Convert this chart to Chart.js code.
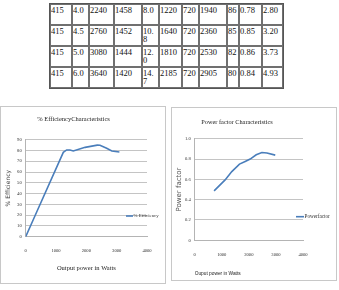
<!DOCTYPE html>
<html><head><meta charset="utf-8">
<script src="https://cdn.jsdelivr.net/npm/chart.js@4.4.0/dist/chart.umd.min.js"></script>
<style>
html,body{margin:0;padding:0;background:#fff;width:339px;height:290px;overflow:hidden;position:relative}
#tbl{position:absolute;left:49px;top:3px;border-collapse:separate;border-spacing:0;border:1px solid #555;table-layout:fixed;width:235px;font-family:'Liberation Serif',serif;font-size:8.5px;line-height:8.3px;color:#111}
#tbl tr{height:21px}
#tbl td{border:1px solid #707070;padding:1px 0 0 0;vertical-align:top;word-break:break-all;overflow:hidden}
#tbl td.nw{padding-right:3px}
.box{position:absolute;border:1px solid #c8c8c8;box-sizing:border-box}
canvas{position:absolute}
</style></head><body>
<table id="tbl"><colgroup>
<col style="width:22px"><col style="width:17px"><col style="width:25px"><col style="width:28px"><col style="width:17px"><col style="width:23px"><col style="width:17px"><col style="width:28px"><col style="width:12px"><col style="width:23px"><col style="width:21px">
</colgroup><tbody id="tb"></tbody></table>
<div class="box" style="left:0;top:106px;width:166px;height:178px"></div>
<div class="box" style="left:171px;top:107px;width:166px;height:174px"></div>
<canvas id="c1" width="165" height="177" style="left:0;top:106px"></canvas>
<canvas id="c2" width="165" height="173" style="left:171px;top:107px"></canvas>
<script>
// ---- table data ----
const row1 = ["415","4.0","2240","1458","8.0","1220","720","1940","86","0.78","2.80"];
const row2 = ["415","4.5","2760","1452","10.8","1640","720","2360","85","0.85","3.20"];
const row3 = ["415","5.0","3080","1444","12.0","1810","720","2530","82","0.86","3.73"];
const row4 = ["415","6.0","3640","1420","14.7","2185","720","2905","80","0.84","4.93"];
const tableRows = [row1, row2, row3, row4];

// ---- chart data ----
const effPower  = [0, 300, 1240, 1350, 1460, 1570, 1960, 2360, 2450, 2670, 2840, 3090];
const effValues = [0, 19, 78.3, 80.5, 80.4, 79.5, 82.9, 85, 84.8, 82, 79.5, 78.6];
const pfPower   = [716, 1123, 1370, 1654, 1864, 2049, 2272, 2481, 2667, 2975];
const pfValues  = [0.487, 0.595, 0.677, 0.75, 0.776, 0.80, 0.842, 0.865, 0.859, 0.839];
const xTickValues   = [0, 1000, 2000, 3000, 4000];
const effTickValues = [0, 10, 20, 30, 40, 50, 60, 70, 80, 90];
const pfTickValues  = [0, 0.2, 0.4, 0.6, 0.8, 1];

// build table
const tb = document.getElementById('tb');
tableRows.forEach(r => {
  const tr = document.createElement('tr');
  r.forEach((v, i) => {
    const td = document.createElement('td');
    td.textContent = v;
    if (i === 4) td.className = 'nw';
    tr.appendChild(td);
  });
  tb.appendChild(tr);
});

const inlineLegend = {
  id: 'inlineLegend',
  afterDraw(chart, args, o) {
    const ctx = chart.ctx, ds = chart.data.datasets[0];
    ctx.save();
    ctx.strokeStyle = ds.borderColor; ctx.lineWidth = ds.borderWidth;
    ctx.beginPath(); ctx.moveTo(o.x, o.y); ctx.lineTo(o.x + o.len, o.y); ctx.stroke();
    ctx.font = o.font; ctx.fillStyle = o.color;
    ctx.textBaseline = 'middle'; ctx.textAlign = 'left';
    ctx.fillText(ds.label, o.x + o.len + 0.5, o.y);
    ctx.restore();
  }
};

const LINE = '#4A7EBB';
const GRID = '#c4c4c4';
const tickFont = {family: 'Liberation Serif', size: 4.6};
const setTicks = vals => s => { s.ticks = vals.map(v => ({value: v})); };

new Chart(document.getElementById('c1'), {
  type: 'scatter',
  data: {datasets: [{
    label: '% Efficiency',
    data: effPower.map((x, i) => ({x, y: effValues[i]})),
    showLine: true, borderColor: LINE, backgroundColor: LINE,
    borderWidth: 1.6, pointRadius: 0, tension: 0
  }]},
  plugins: [inlineLegend],
  options: {
    responsive: false, animation: false, devicePixelRatio: 1,
    layout: {padding: {left: 0, right: 18, top: 0, bottom: 0}},
    plugins: {
      legend: {display: false}, tooltip: {enabled: false},
      title: {display: true, text: '% EfficiencyCharacteristics',
        font: {family: 'Liberation Serif', size: 6.5, weight: 'normal'},
        color: '#222', padding: {top: 9.1, bottom: 16.8}},
      inlineLegend: {x: 126, y: 110, len: 7, font: '4.8px "Liberation Serif"', color: '#333'}
    },
    scales: {
      x: {type: 'linear', min: 0, max: 4000, afterBuildTicks: setTicks(xTickValues),
        afterFit: s => { s.height = 46.3; },
        ticks: {callback: v => String(v), font: tickFont, color: '#333', padding: 11, maxRotation: 0, autoSkip: false},
        grid: {display: false, drawTicks: false},
        border: {display: true, color: '#b4b4b4'},
        title: {display: true, text: 'Output power in Watts',
          font: {family: 'Liberation Serif', size: 6.5}, color: '#222', padding: {top: 0, bottom: 11.1}}},
      y: {min: 0, max: 90, afterBuildTicks: setTicks(effTickValues),
        afterFit: s => { s.width = 25.7; },
        ticks: {font: tickFont, color: '#333', padding: 4, autoSkip: false},
        grid: {color: GRID, drawTicks: false},
        border: {display: true, color: '#b4b4b4'},
        title: {display: true, text: '% Efficiency',
          font: {family: 'DejaVu Sans', size: 6}, color: '#444', padding: {top: 4.4, bottom: 0}}}
    }
  }
});

new Chart(document.getElementById('c2'), {
  type: 'scatter',
  data: {datasets: [{
    label: 'Powerfactor',
    data: pfPower.map((x, i) => ({x, y: pfValues[i]})),
    showLine: true, borderColor: LINE, backgroundColor: LINE,
    borderWidth: 1.6, pointRadius: 0, tension: 0
  }]},
  plugins: [inlineLegend],
  options: {
    responsive: false, animation: false, devicePixelRatio: 1,
    layout: {padding: {left: 0, right: 33, top: 0, bottom: 0}},
    plugins: {
      legend: {display: false}, tooltip: {enabled: false},
      title: {display: true, text: 'Power factor Characteristics',
        font: {family: 'Liberation Serif', size: 6.3, weight: 'normal'},
        color: '#222', padding: {top: 11.8, bottom: 12.4}},
      inlineLegend: {x: 125, y: 109.7, len: 8, font: '5.2px "Liberation Serif"', color: '#333'}
    },
    scales: {
      x: {type: 'linear', min: 0, max: 4000, afterBuildTicks: setTicks(xTickValues),
        afterFit: s => { s.height = 39.7; },
        ticks: {callback: v => String(v), font: tickFont, color: '#333', padding: 12, maxRotation: 0, autoSkip: false},
        grid: {display: false, drawTicks: false},
        border: {display: true, color: '#b4b4b4'},
        title: {display: true, text: 'Ouput power in Watts', align: 'start',
          font: {family: 'Liberation Sans', size: 4.8}, color: '#222', padding: {top: 0, bottom: 3.1}}},
      y: {min: 0, max: 1, afterBuildTicks: setTicks(pfTickValues),
        afterFit: s => { s.width = 23.7; },
        ticks: {font: tickFont, color: '#333', padding: 4, autoSkip: false},
        grid: {color: GRID, drawTicks: false},
        border: {display: true, color: '#b4b4b4'},
        title: {display: true, text: 'Power factor',
          font: {family: 'DejaVu Sans', size: 7}, color: '#555', padding: {top: 3.8, bottom: 0}}}
    }
  }
});
</script>
</body></html>
